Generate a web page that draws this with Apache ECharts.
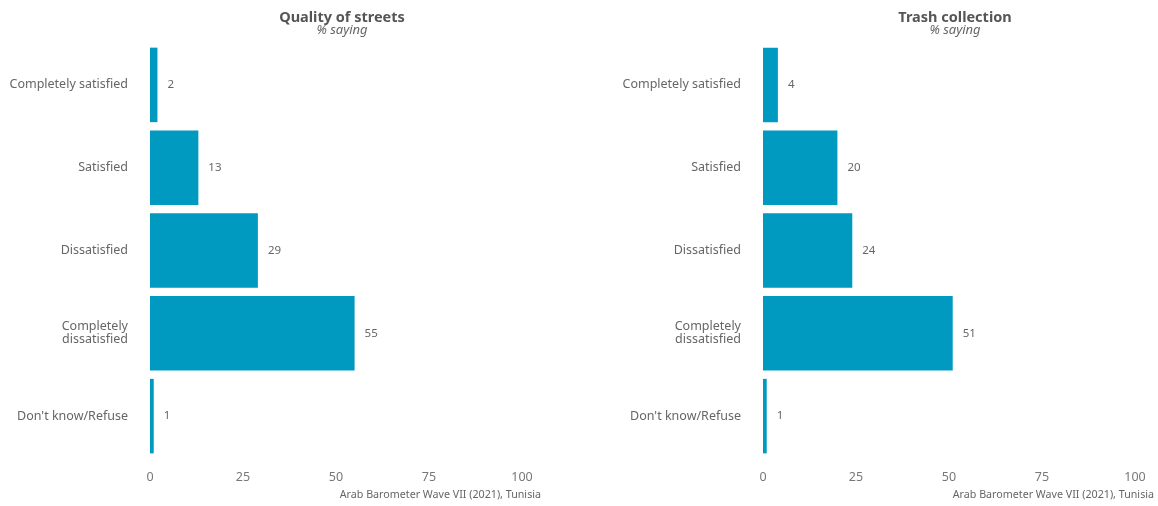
<!DOCTYPE html>
<html><head><meta charset="utf-8">
<script src="https://cdn.jsdelivr.net/npm/echarts@6/dist/echarts.min.js"></script>
<style>html,body{margin:0;padding:0;background:#fff}#c{width:1158px;height:506px}</style>
</head><body><div id="c"></div>
<script>
const categories = ["Completely satisfied","Satisfied","Dissatisfied","Completely dissatisfied","Don't know/Refuse"];
const streetsValues = [2, 13, 29, 55, 1];
const trashValues = [4, 20, 24, 51, 1];
const panelTitles = ["Quality of streets", "Trash collection"];
const subtitle = "% saying";
const caption = "Arab Barometer Wave VII (2021), Tunisia";
const xTicks = [0, 25, 50, 75, 100];

const FONT = "'Noto Sans', sans-serif";
const BAR = "#0099c0";
const chart = echarts.init(document.getElementById('c'));
const grids = [
  {left: 150, right: 636, top: 43.5, bottom: 48.5},
  {left: 763, right: 23, top: 43.5, bottom: 48.5}
];
const centers = [337, 950];
const capRight = [1158 - 541, 4];
const data = [streetsValues, trashValues];
const opt = {
  animation: false,
  title: panelTitles.map((t, i) => ({
    text: t, subtext: subtitle, left: centers[i], top: 5, textAlign: 'center', itemGap: -1,
    textStyle: {fontFamily: FONT, fontSize: 14.5, fontWeight: 'bold', color: '#555'},
    subtextStyle: {fontFamily: FONT, fontSize: 13, fontStyle: 'italic', color: '#666'}
  })),
  graphic: capRight.map(r => ({
    type: 'text', right: r, top: 489,
    style: {text: caption, font: "10.7px 'Noto Sans', sans-serif", fill: '#666'}
  })),
  grid: grids,
  xAxis: grids.map((g, i) => ({
    type: 'value', gridIndex: i, min: 0, max: 100, interval: 25,
    axisLine: {show: false}, axisTick: {show: false}, splitLine: {show: false},
    axisLabel: {fontFamily: FONT, fontSize: 12.5, color: '#777', margin: 13,
      customValues: xTicks}
  })),
  yAxis: grids.map((g, i) => ({
    type: 'category', gridIndex: i, data: categories, inverse: true,
    axisLine: {show: false}, axisTick: {show: false}, splitLine: {show: false},
    axisLabel: {fontFamily: FONT, fontSize: 12.5, color: '#666', margin: 22, lineHeight: 13,
      padding: [3, 0, 0, 0],
      formatter: v => v === 'Completely dissatisfied' ? 'Completely\ndissatisfied' : v}
  })),
  series: data.map((d, i) => ({
    type: 'bar', xAxisIndex: i, yAxisIndex: i, data: d, barCategoryGap: '10%',
    itemStyle: {color: BAR},
    label: {show: true, position: 'right', distance: 10, fontFamily: FONT, fontSize: 11.5, color: '#666'}
  }))
};
chart.setOption(opt);
</script></body></html>
